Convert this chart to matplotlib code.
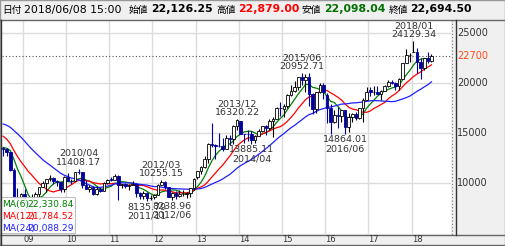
import matplotlib
matplotlib.use("Agg")
import numpy as np
import matplotlib.pyplot as plt
from matplotlib.patches import Rectangle
from matplotlib.lines import Line2D
from matplotlib.transforms import blended_transform_factory as blend

plt.rcParams['font.family'] = ['DejaVu Sans', 'Noto Sans CJK JP']

# closes before the chart window (2006/08 - 2008/06), only used for the moving averages
prior_closes = [16140.76, 16127.58, 16399.39, 16274.33, 17225.83,
                17383.42, 17604.12, 17287.65, 17400.41, 17875.75, 18138.36,
                17248.89, 16569.09, 16785.69, 16737.63, 15680.67, 15307.78,
                13592.47, 13603.02, 12525.54, 13849.99, 14338.54, 13481.38]

# monthly candles 2008/07 .. 2018/06
opens = [13463, 13376, 13072, 11259, 8576, 8512,
         8859, 7994, 7568, 8109, 8828, 9522, 9958, 10356, 10492, 10133, 10034, 9345,
         10609, 10198, 10126, 11089, 11057, 9768, 9382, 9537, 8824, 9369, 9202, 9937,
         10352, 10237, 10624, 9755, 9849, 9693, 9816, 9833, 8955, 8700, 8988, 8434,
         8549, 8802, 9723, 10083, 9520, 8542, 9006, 8695, 8839, 8870, 8928, 9446,
         10604, 11138, 11559, 12397, 13860, 13774, 13677, 13668, 13388, 14455, 14327, 15661,
         16147, 14914, 14841, 14827, 14304, 14632, 15162, 15620, 15424, 16173, 16413, 17459,
         17325, 17674, 18797, 19206, 19520, 20563, 20235, 20585, 18890, 17388, 19083, 19747,
         18818, 17518, 16026, 16758, 16666, 17234, 15575, 16569, 16887, 16449, 17425, 18308,
         19298, 19041, 19118, 18909, 19196, 19650, 20033, 19925, 19646, 20356, 22011, 22724,
         23073, 23098, 22068, 21454, 22467, 22126.25]
highs = [13603, 13430, 13072, 11456, 9503, 8980,
         9325, 8076, 8843, 9070, 9522, 10170, 10357, 10767, 10530, 10300, 10100, 10707,
         10982, 10413, 11097, 11408.17, 11057, 10238, 9800, 9695, 9691, 9597, 10115, 10370,
         10592, 10891, 10768, 9849, 10017, 9876, 10207, 9996, 9040, 9152, 9050, 8785,
         8860, 9866, 10255.15, 10190, 9556, 9070, 9136, 9222, 9288, 9058, 9494, 10433,
         11138, 11662, 12650, 13980, 15942, 13884, 14953, 14466, 14817, 14799, 15727, 16320.22,
         16164, 14918, 15312, 15164, 14743, 15376, 15646, 15759, 16374, 16533, 17520, 18030,
         17850, 18826, 19778, 20133, 20601, 20952.71, 20850, 20946, 18925, 19118, 19937, 20012,
         18951, 17905, 17291, 17613, 17251, 17251, 16938, 16956, 17074, 17477, 18516, 19592,
         19615, 19668, 19668, 19289, 19736, 20318, 20230, 20080, 20481, 22011, 23382, 23000,
         24129.34, 23486, 22502, 22500, 23050, 22879.00]
lows = [12671, 12651, 11160, 6994.90, 7162, 7863,
        7671, 7155, 7055, 8047, 8618, 9522, 9050, 10189, 9900, 9674, 9076, 9100,
        10198, 9867, 10125, 10850, 9459, 9379, 9091, 8807, 8796, 9027, 9123, 9865,
        10176, 10237, 8227, 9441, 9460, 9318, 9796, 8619, 8343, 8359, 8135.79, 8272,
        8349, 8793, 9723, 9388, 8526, 8238.96, 8328, 8611, 8719, 8488, 8619, 9305,
        10398, 10834, 11469, 12003, 13555, 12415, 13596, 13188, 13540, 13748, 13853, 15300,
        14843, 13995, 14203, 13885.11, 13964, 14649, 15085, 14753, 15302, 14529, 16720, 16672,
        16592, 17486, 18711, 19034, 19258, 19811, 19115, 17714, 16901, 16930, 18963, 18413,
        16017, 14865, 16013, 15471, 16046, 14864.01, 15090, 16082, 16299, 16355, 16111, 18240,
        18650, 18805, 18938, 18224, 19157, 19612, 19883, 19280, 19239, 20373, 21972, 22119,
        23065, 20950, 20347, 21292, 22018, 22098.04]
closes = [13376.81, 13072.87, 11259.86, 8576.98, 8512.27, 8859.56,
          7994.05, 7568.42, 8109.53, 8828.26, 9522.50, 9958.44, 10356.83, 10492.53, 10133.23, 10034.74, 9345.55, 10546.44,
          10198.04, 10126.03, 11089.94, 11057.40, 9768.70, 9382.64, 9537.30, 8824.06, 9369.35, 9202.45, 9937.04, 10228.92,
          10237.92, 10624.09, 9755.10, 9849.74, 9693.73, 9816.09, 9833.03, 8955.20, 8700.29, 8988.39, 8434.61, 8455.35,
          8802.51, 9723.24, 10083.56, 9520.89, 8542.73, 9006.78, 8695.06, 8839.91, 8870.16, 8928.29, 9446.01, 10395.18,
          11138.66, 11559.36, 12397.91, 13860.86, 13774.54, 13677.32, 13668.32, 13388.86, 14455.80, 14327.94, 15661.87, 16291.31,
          14914.53, 14841.07, 14827.83, 14304.11, 14632.38, 15162.10, 15620.77, 15424.59, 16173.52, 16413.76, 17459.85, 17450.77,
          17674.39, 18797.94, 19206.99, 19520.01, 20563.15, 20235.73, 20585.24, 18890.48, 17388.15, 19083.10, 19747.47, 19033.71,
          17518.30, 16026.76, 16758.67, 16666.05, 17234.98, 15575.92, 16569.27, 16887.40, 16449.84, 17425.02, 18308.48, 19114.37,
          19041.34, 19118.99, 18909.26, 19196.74, 19650.57, 20033.43, 19925.18, 19646.24, 20356.28, 22011.61, 22724.96, 22764.94,
          23098.29, 22068.24, 21454.30, 22467.87, 22201.82, 22694.50]

first_month = (2008, 7)
year_labels = ['09', '10', '11', '12', '13', '14', '15', '16', '17', '18']
y_ticks = [10000, 15000, 20000, 25000]
price_line = 22700

# swing high / low notes: (month, kind, value)
notes = [("2008/10", "low", 6994.90), ("2010/04", "high", 11408.17),
         ("2011/11", "low", 8135.79), ("2012/03", "high", 10255.15),
         ("2012/06", "low", 8238.96), ("2013/12", "high", 16320.22),
         ("2014/04", "low", 13885.11), ("2015/06", "high", 20952.71),
         ("2016/06", "low", 14864.01), ("2018/01", "high", 24129.34)]

ma_spans = [6, 12, 24]
ma_colors = ['#008000', '#ff0000', '#2020ff']

header = [("日付", 2, 'cjk', 'black'), ("2018/06/08 15:00", 24, 'plain', 'black'),
          ("始値", 129, 'cjk', 'black'), ("22,126.25", 151, 'bold', 'black'),
          ("高値", 216, 'cjk', 'black'), ("22,879.00", 238, 'bold', '#ff0000'),
          ("安値", 302, 'cjk', 'black'), ("22,098.04", 324, 'bold', '#007000'),
          ("終値", 389, 'cjk', 'black'), ("22,694.50", 410, 'bold', 'black')]


def month_idx(s):
    y, m = s.split('/')
    return (int(y) - first_month[0]) * 12 + int(m) - first_month[1]


W, H = 505, 246
fig = plt.figure(figsize=(W / 100, H / 100), dpi=100, facecolor='#f0f0f0')

def fx(px):
    return px / W

def fy(py):
    return 1 - py / H

top, bot, left, right = 20, 234, 2, 451
ax = fig.add_axes([fx(left), fy(bot), fx(right - left), (bot - top) / H])
ax.set_facecolor('white')
n = len(closes)
x = np.arange(n)
ax.set_xlim(-0.3, -0.3 + (right - left) / 3.6)
ax.set_ylim(25000 - (bot - 32.7) * 100, 25000 + (32.7 - top) * 100)
ax.set_xticks([])
ax.set_yticks([])
for s in ax.spines.values():
    s.set_visible(False)

# grid
for k in range(len(year_labels)):
    ax.axvline(month_idx("20%s/01" % year_labels[k]) - 0.5, color='#dcdcdc', lw=1, zorder=0)
for v in y_ticks:
    ax.axhline(v, color='#dcdcdc', lw=1, zorder=0)
ax.axhline(price_line, color='#555555', lw=0.8, ls=(0, (1, 2)), zorder=1)

# moving averages
allc = np.array(prior_closes + closes)
for span, col in zip(ma_spans, ma_colors):
    ma = np.convolve(allc, np.ones(span) / span, mode='valid')[-n:]
    ax.plot(x, ma, color=col, lw=0.9, zorder=2)

# candles
o = np.array(opens); c = np.array(closes); h = np.array(highs); l = np.array(lows)
up = c >= o
navy = '#00009c'
ax.vlines(x[up], l[up], h[up], color='black', lw=0.8, zorder=3)
ax.vlines(x[~up], l[~up], h[~up], color=navy, lw=0.8, zorder=3)
ax.bar(x[up], np.maximum(c[up] - o[up], 40), bottom=o[up], width=0.7,
       facecolor='white', edgecolor='black', lw=0.6, zorder=4)
ax.bar(x[~up], o[~up] - c[~up], bottom=c[~up], width=0.7,
       facecolor=navy, edgecolor=navy, lw=0.6, zorder=4)

# notes
for m, kind, v in notes:
    i = month_idx(m)
    if kind == 'high':
        ax.annotate("%s\n%.2f" % (m, v), (i, v), xytext=(0, 1.5), textcoords='offset points',
                    ha='center', va='bottom', fontsize=6.8, color='#333333', linespacing=1.0, zorder=5)
    else:
        ax.annotate("%.2f\n%s" % (v, m), (i, v), xytext=(0, -1), textcoords='offset points',
                    ha='center', va='top', fontsize=6.8, color='#333333', linespacing=1.0, zorder=5)

# MA legend box (drawn over the early lows, like the original)
ax.add_patch(Rectangle((fx(0), fy(233)), fx(75), (233 - 197) / H, transform=fig.transFigure,
                       facecolor='white', edgecolor='#bbbbbb', lw=0.8, alpha=0.94, zorder=6))
ma_last = [np.mean(allc[-s:]) for s in ma_spans]
for k, (span, col, val) in enumerate(zip(ma_spans, ma_colors, ma_last)):
    yy = fy(205 + 11.6 * k)
    fig.text(fx(2), yy, "MA(%d)" % span, color=col, fontsize=6.6, va='center', ha='left', zorder=7)
    fig.text(fx(74), yy, "{:,.2f}".format(val), color=col, fontsize=6.6, va='center', ha='right', zorder=7)

# right price panel
bt = blend(fig.transFigure, ax.transData)
for v in y_ticks:
    fig.text(fx(457), v, str(v), transform=bt, fontsize=7, color='#333333', va='center', ha='left')
fig.text(fx(457), price_line, str(price_line), transform=bt, fontsize=7, color='#ff4a1a', va='center', ha='left')

# year labels
bx = blend(ax.transData, fig.transFigure)
for lab in year_labels:
    fig.text(month_idx("20%s/01" % lab) + 1, fy(239.5), lab, transform=bx, fontsize=6, color='#333333',
             ha='center', va='center')

# frame lines
def hline(py, x0, x1, **kw):
    fig.add_artist(Line2D([fx(x0), fx(x1)], [fy(py), fy(py)], transform=fig.transFigure, **kw))

def vline(px, y0, y1, **kw):
    fig.add_artist(Line2D([fx(px), fx(px)], [fy(y0), fy(y1)], transform=fig.transFigure, **kw))

hline(19.5, 0, 505, color='#666666', lw=1)
hline(234.5, 0, 505, color='#666666', lw=1)
hline(244.5, 0, 505, color='#666666', lw=1)
vline(1, 19.5, 244.5, color='#333333', lw=1)
vline(455.5, 19.5, 234.5, color='#333333', lw=1)
vline(451.5, 19.5, 234.5, color='#777777', lw=0.8, ls=(0, (1, 2)))
fig.add_artist(Rectangle((0, 0), 1, 1, transform=fig.transFigure, fill=False, edgecolor='#999999', lw=1))

# header
for txt, px, kind, col in header:
    if kind == 'cjk':
        fig.text(fx(px), fy(9.5), txt, fontsize=7, family=['Noto Sans CJK JP'], color=col, va='center')
    elif kind == 'bold':
        fig.text(fx(px), fy(9.5), txt, fontsize=7.8, fontweight='bold', color=col, va='center')
    else:
        fig.text(fx(px), fy(9.5), txt, fontsize=7.8, color=col, va='center')

fig.savefig('out.png', dpi=100, facecolor=fig.get_facecolor())
